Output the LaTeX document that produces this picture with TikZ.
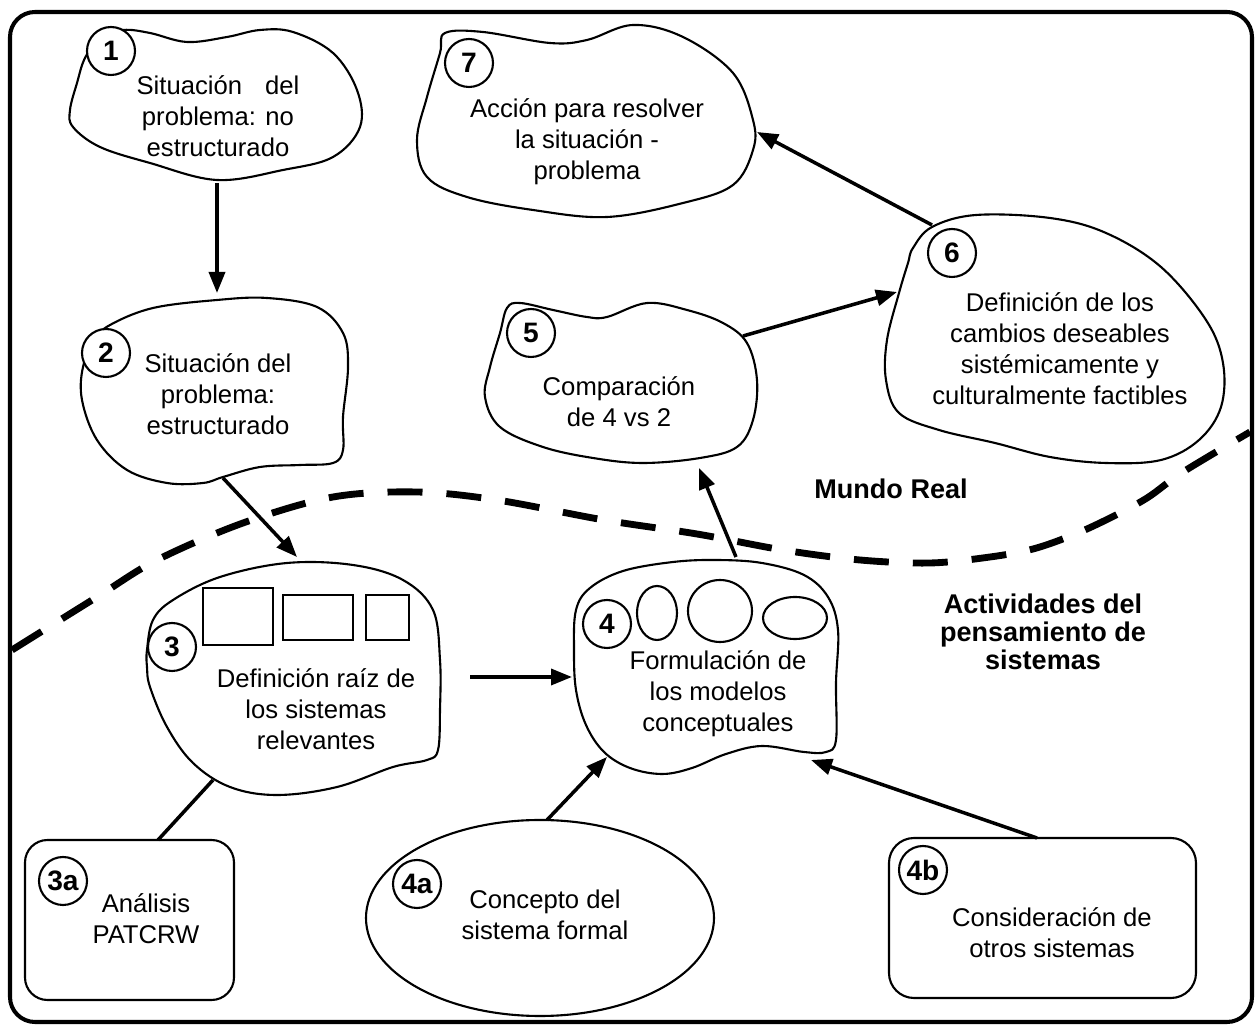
\documentclass[tikz,border=0pt]{standalone}
\usepackage{fontspec}
\setmainfont{Liberation Sans}
\usetikzlibrary{arrows.meta}
\begin{document}
\begin{tikzpicture}[x=0.02cm,y=-0.02cm,
  blob/.style={draw,line width=1.2pt,fill=white},
  num/.style={circle,draw,fill=white,line width=1.2pt,minimum size=0.96cm,inner sep=0pt,
    font=\fontsize{16}{17}\selectfont\bfseries},
  txt/.style={align=center,font=\fontsize{14.6}{17.6}\selectfont,inner sep=0pt},
  region/.style={align=center,font=\fontsize{15.4}{15.8}\selectfont\bfseries,inner sep=0pt},
  conn/.style={line width=2pt,-{Triangle[length=0.42cm,width=0.32cm]}},
  link/.style={line width=2pt},
  frontier/.style={line width=3.9pt,dash pattern=on 0.7cm off 0.48cm},
  icon/.style={draw,line width=1.2pt}]
\useasboundingbox (0,0) rectangle (1259,1026);

% outer frame
\draw[line width=2.3pt,rounded corners=0.5cm] (10,12) rectangle (1252,1022);

% boundary between the real world and systems thinking
\draw[frontier] plot[smooth,tension=0.55] coordinates {(12,650) (97,597) (157,560) (243,523) (333,497) (417,492) (497,500) (604,520) (697,534) (783,550) (860,560) (930,563) (990,557) (1033,549) (1073,535) (1110,518) (1147,498) (1183,472) (1250,432)};

\node[region] (real) at (891,489) {Mundo Real};
\node[region] (think) at (1043,632) {Actividades del\\pensamiento de\\sistemas};

% stage 1
\draw[blob] plot[smooth cycle,tension=0.6] coordinates {(85,58) (77,83) (70,110) (73,127) (100,147) (150,163) (217,180) (283,170) (333,157) (360,127) (357,90) (333,53) (293,32) (260,30) (227,37) (187,42) (150,33) (123,30) (100,38)};
\node[num] (c1) at (111,51) {1};
\node[txt] (t1) at (218,116) {Situación\hspace{0.9em}del\\problema: no\\estructurado};
\coordinate (s1) at (217,183);

% stage 2
\draw[blob] plot[smooth cycle,tension=0.6] coordinates {(83,367) (82,400) (97,440) (127,470) (167,483) (203,483) (223,477) (260,467) (300,465) (333,463) (343,450) (343,417) (348,367) (343,333) (317,307) (267,298) (217,300) (153,308) (110,325) (95,340)};
\node[num] (c2) at (106,353) {2};
\node[txt] (t2) at (218,394) {Situación del\\problema:\\estructurado};
\coordinate (n2) at (217,293);
\coordinate (s2) at (223,478);

% stage 3
\draw[blob] plot[smooth cycle,tension=0.6] coordinates {(147,650) (153,620) (173,600) (220,577) (287,563) (353,565) (403,580) (433,610) (440,660) (440,710) (438,750) (427,760) (393,767) (337,787) (277,795) (230,787) (193,763) (167,727) (150,687) (147,667)};
\draw[icon] (203,588) rectangle (273,645);
\draw[icon] (283,595) rectangle (353,640);
\draw[icon] (366,595) rectangle (409,640);
\node[num] (c3) at (172,647) {3};
\node[txt] (t3) at (316,709) {Definición raíz de\\los sistemas\\relevantes};
\coordinate (n3) at (297,557);
\coordinate (e3) at (470,677);
\coordinate (s3) at (213,780);

% stage 4
\draw[blob] plot[smooth cycle,tension=0.6] coordinates {(590,588) (576,610) (574,650) (576,690) (586,725) (604,752) (630,768) (662,774) (692,768) (726,754) (762,746) (804,752) (826,752) (836,740) (836,683) (838,630) (828,597) (804,575) (762,563) (717,560) (673,562) (623,571)};
\draw[icon] (657,613) ellipse [x radius=20,y radius=27];
\draw[icon] (720,611) ellipse [x radius=32,y radius=31];
\draw[icon] (795,618) ellipse [x radius=32,y radius=21];
\node[num] (c4) at (607,624) {4};
\node[txt] (t4) at (718,694) {Formulación de\\los modelos\\conceptuales};
\coordinate (w4) at (572,677);
\coordinate (n4) at (736,557);
\coordinate (sw4) at (607,757);
\coordinate (se4) at (811,760);

% stage 5
\draw[blob] plot[smooth cycle,tension=0.6] coordinates {(507,308) (520,303) (553,310) (587,317) (607,317) (647,303) (687,310) (723,323) (747,343) (757,380) (753,420) (737,447) (700,458) (643,463) (593,458) (543,447) (500,427) (485,397) (490,367) (500,333)};
\node[num] (c5) at (531,333) {5};
\node[txt] (t5) at (619,402) {Comparación\\de 4 vs 2};
\coordinate (s5) at (699,468);
\coordinate (e5) at (743,336);

% stage 6
\draw[blob] plot[smooth cycle,tension=0.6] coordinates {(913,248) (932,227) (976,215) (1050,218) (1106,233) (1161,267) (1206,320) (1223,363) (1221,407) (1199,440) (1161,460) (1106,463) (1050,457) (995,443) (939,430) (899,413) (886,380) (887,340) (899,293) (908,263)};
\node[num] (c6) at (952,253) {6};
\node[txt] (t6) at (1060,349) {Definición de los\\cambios deseables\\sistémicamente y\\culturalmente factibles};
\coordinate (w6) at (897,292);
\coordinate (n6) at (932,225);

% stage 7
\draw[blob] plot[smooth cycle,tension=0.6] coordinates {(445,33) (483,32) (550,43) (587,40) (633,25) (683,37) (733,73) (753,120) (753,150) (733,185) (683,203) (607,217) (533,210) (467,197) (427,177) (417,140) (427,97) (440,53)};
\node[num] (c7) at (469,63) {7};
\node[txt] (t7) at (587,142) {Acción para resolver\\la situación -\\problema};
\coordinate (e7) at (757,132);

% supporting inputs
\draw[blob,rounded corners=0.45cm] (25,840) rectangle (234,1000);
\node[num] (c3a) at (63,881) {3a};
\node[txt] (t3a) at (146,919) {Análisis\\PATCRW};
\coordinate (n3a) at (158,840);

\draw[blob] (540,918) ellipse [x radius=174,y radius=98];
\node[num] (c4a) at (417,884) {4a};
\node[txt] (t4a) at (545,915) {Concepto del\\sistema formal};
\coordinate (n4a) at (547,820);

\draw[blob,rounded corners=0.5cm] (889,838) rectangle (1196,998);
\node[num] (c4b) at (923,870) {4b};
\node[txt] (t4b) at (1052,933) {Consideración de\\otros sistemas};
\coordinate (n4b) at (1037,838);

% connectors
\draw[conn] (s1) -- (n2);
\draw[conn] (s2) -- (n3);
\draw[conn] (e3) -- (w4);
\draw[link] (n3a) -- (s3);
\draw[conn] (n4a) -- (sw4);
\draw[conn] (n4b) -- (se4);
\draw[conn] (n4) -- (s5);
\draw[conn] (e5) -- (w6);
\draw[conn] (n6) -- (e7);
\end{tikzpicture}
\end{document}
